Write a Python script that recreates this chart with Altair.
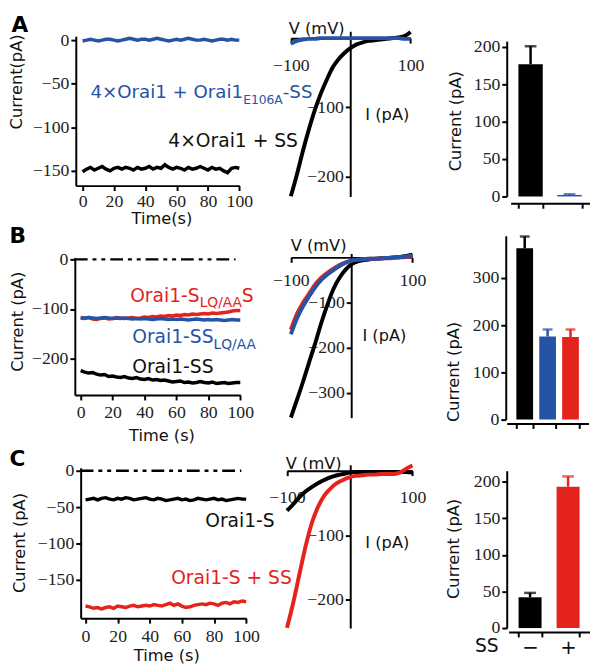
import altair as alt
import pandas as pd

# ---------------- data ----------------
TIME = [0, 2.5, 5, 7.5, 10, 12.5, 15, 17.5, 20, 22.5, 25, 27.5, 30, 32.5, 35, 37.5, 40,
        42.5, 45, 47.5, 50, 52.5, 55, 57.5, 60, 62.5, 65, 67.5, 70, 72.5, 75, 77.5, 80,
        82.5, 85, 87.5, 90, 92.5, 95, 97.5, 100]
VOLT = [-100, -90, -80, -70, -60, -50, -40, -30, -20, -10, 0, 10, 20, 30, 40, 50, 60, 70, 80, 90, 100]

# time courses (pA)
A_blue_t = [-1, 0, 1, 0, -1, 0, 1, 1, 0, -1, 0, 1, 2, 1, 0, 1, 1, 0, 1, 2, 1, 0, -1, 0, 1, 0,
            1, 2, 1, 0, 0, 1, 0, -1, 0, 1, 1, 0, 1, 0, 0]
A_black_t = [-151, -148, -146, -149, -147, -145, -148, -150, -147, -146, -148, -146, -147, -149,
             -146, -148, -147, -145, -148, -146, -147, -143, -146, -148, -146, -147, -149, -146,
             -148, -147, -145, -147, -149, -146, -148, -147, -150, -152, -147, -146, -147]
B_red_t = [-118, -119, -117, -120, -121, -119, -118, -120, -119, -117, -118, -119, -118, -117,
           -119, -118, -116, -117, -115, -116, -114, -115, -113, -114, -112, -113, -111, -112,
           -110, -111, -110, -109, -110, -108, -109, -108, -107, -106, -104, -103, -103]
B_blue_t = [-117, -118, -117, -118, -119, -118, -117, -118, -119, -118, -119, -118, -119, -120,
            -119, -120, -119, -120, -121, -120, -119, -120, -121, -120, -121, -120, -121, -122,
            -121, -120, -121, -122, -121, -122, -121, -122, -123, -122, -121, -122, -122]
B_black_t = [-224, -227, -229, -228, -231, -233, -232, -236, -235, -237, -238, -236, -239, -240,
             -238, -241, -242, -240, -243, -242, -244, -243, -245, -247, -246, -245, -248, -247,
             -249, -248, -246, -248, -249, -247, -250, -249, -248, -250, -249, -248, -248]
C_black_t = [-40, -39, -38, -40, -38, -37, -39, -40, -38, -39, -37, -38, -40, -39, -38, -37, -39,
             -40, -38, -39, -41, -40, -39, -38, -40, -39, -41, -40, -38, -39, -40, -39, -38, -40,
             -39, -41, -40, -39, -38, -39, -39]
C_red_t = [-186, -187, -189, -188, -190, -188, -187, -189, -186, -187, -188, -186, -185, -187,
           -186, -185, -186, -184, -185, -186, -184, -182, -185, -183, -186, -188, -187, -185,
           -184, -183, -184, -182, -183, -185, -182, -181, -183, -180, -181, -179, -180]

# I-V curves (pA)
A_black_iv = [-228, -197, -163, -132, -104, -80, -60, -42, -30, -21, -14, -9, -6, -4, -3, -2, -1, 0, 1, 3, 9]
A_blue_iv = [-8, -4, -2, -1, -1, 0, 0, 0, 0, 0, 0, 0, 0, 0, 0, 0, 0, 0, 0, -1, -1]
B_black_iv = [-354, -315, -275, -232, -190, -145, -105, -70, -45, -27, -15, -9, -6, -4, -3, -2, -1, 0, 1, 3, 6]
B_red_iv = [-160, -125, -100, -80, -60, -45, -34, -25, -17, -11, -7, -5, -4, -3, -3, -2, -2, -1, 0, 1, 2]
B_blue_iv = [-170, -135, -108, -86, -66, -50, -38, -28, -19, -12, -7, -5, -4, -3, -3, -2, -1, 0, 1, 2, 4]
C_black_iv = [-62, -52, -41, -32, -25, -19, -14, -10, -7, -5, -3, -2, -2, -2, -2, -2, -2, -2, -2, -2, -3]
C_red_iv = [-244, -205, -160, -116, -80, -55, -38, -27, -19, -14, -10, -8, -7, -6, -6, -5, -5, -5, -3, 3, 8]

# bar summaries (pA)
A_cats = ["4×Orai1 + SS", "4×Orai1 + Orai1E106A-SS"]
A_vals = [177, 2]
A_errs = [24, 1]
B_cats = ["Orai1-SS", "Orai1-SSLQ/AA", "Orai1-SLQ/AAS"]
B_vals = [363, 176, 175]
B_errs = [25, 15, 16]
C_cats = ["−", "+"]
C_vals = [42, 193]
C_errs = [6, 14]

BLACK = "#000000"
BLUE = "#2553a6"
RED = "#e4231c"
SANS = "DejaVu Sans"
SERIF = "Liberation Serif"
LBL = dict(labelFont=SERIF, labelFontSize=18, labelColor="#222")

# ---------------- layout helpers (reference-pixel grid) ----------------
SX, SY = 0.99, 1.0
COLS = [68, 262, 440, 600]
ROWS = [25, 233, 466, 646]
LETTER_SHIFT = 26


def lx(c, x):
    return (x - COLS[c]) * SX


def ly(r, y):
    return (y - ROWS[r]) * SY


def W(c):
    return (COLS[c + 1] - COLS[c]) * SX


def H(r):
    return (ROWS[r + 1] - ROWS[r]) * SY


CW = {'O': 0.787, 'r': 0.411, 'a': 0.613, 'i': 0.278, '1': 0.636, '4': 0.636, '×': 0.838,
      ' ': 0.318, '+': 0.838, '-': 0.361, 'S': 0.635, 'E': 0.632, '0': 0.636, '6': 0.636,
      'A': 0.684, 'L': 0.557, 'Q': 0.787, '/': 0.337}


def est_width(s, size):
    return sum(CW.get(ch, 0.6) for ch in s) * size


def letter_title(letter, pos, r):
    return alt.TitleParams(text=letter, anchor="start", frame="group", orient="top", offset=0,
                           dx=(pos[0] - COLS[0]) * SX, dy=(pos[1] - ROWS[r]) * SY + LETTER_SHIFT,
                           baseline="alphabetic", fontSize=22, fontWeight="bold", font=SANS,
                           color="#000")


def time_panel(r, cfg, traces, anns, zero_line):
    h = H(r)
    pps = (cfg['x100'] - cfg['x0']) / 100.0
    d0 = -(cfg['x0'] - cfg['axis_x']) / pps
    ytop = (cfg['y0'] - cfg['ytop_px']) / cfg['ppu']
    ybot = -(cfg['line_y'] - cfg['y0']) / cfg['ppu']
    xs = alt.Scale(domain=[d0, 100], range=[lx(0, cfg['axis_x']), lx(0, cfg['x100'])], nice=False, zero=False)
    ys = alt.Scale(domain=[ybot, ytop], range=[ly(r, cfg['line_y']), ly(r, cfg['ytop_px'])], nice=False, zero=False)
    xa = alt.Axis(values=[0, 20, 40, 60, 80, 100], offset=ly(r, cfg['line_y']) - h, title=cfg['xtitle'],
                  titleX=lx(0, cfg['xt'][0]), titleY=(cfg['xt'][1] - cfg['line_y']) * SY,
                  titleAlign="center", titleBaseline="middle", labelPadding=cfg['lp'], **LBL)
    ya = alt.Axis(values=cfg['yticks'], offset=-lx(0, cfg['axis_x']), title=cfg['ytitle'],
                  titleX=(cfg['yt'][0] - cfg['axis_x']) * SX, titleY=ly(r, cfg['yt'][1]),
                  titleAngle=270, titleAlign="center", titleBaseline="middle", **LBL)
    xe = alt.X("t:Q", scale=xs, axis=xa)
    ye = alt.Y("I:Q", scale=ys, axis=ya)
    layers = []
    if zero_line:
        zdf = pd.DataFrame({"t": [d0], "t2": [97], "I": [0]})
        layers.append(alt.Chart(zdf).mark_rule(color=BLACK, strokeWidth=2.5, strokeDash=[13, 5, 4, 5, 4, 5])
                      .encode(x=xe, x2="t2:Q", y=ye))
    for vals, col in traces:
        df = pd.DataFrame({"t": TIME, "I": vals})
        layers.append(alt.Chart(df).mark_line(color=col, strokeWidth=3.5).encode(x=xe, y=ye))
    for (t, i, pieces, col) in anns:
        df = pd.DataFrame({"t": [t], "I": [i]})
        dx = 0
        for text, size, dy in pieces:
            layers.append(alt.Chart(df).mark_text(text=text, font=SANS, fontSize=size, color=col,
                                                  align="left", baseline="alphabetic", dx=dx, dy=dy)
                          .encode(x=xe, y=ye))
            dx += est_width(text, size)
    return alt.layer(*layers).properties(width=W(0), height=h,
                                         title=letter_title(cfg['letter'], cfg['letter_pos'], r))


def iv_panel(r, cfg, curves):
    h = H(r)
    ytop = (cfg['zero_y'] - cfg['top_px']) / cfg['ppu']
    ybot = -(cfg['bot_px'] - cfg['zero_y']) / cfg['ppu']
    xs = alt.Scale(domain=[-100, 100], range=[lx(1, cfg['x_left']), lx(1, cfg['x_right'])], nice=False, zero=False)
    ys = alt.Scale(domain=[ybot, ytop], range=[ly(r, cfg['bot_px']), ly(r, cfg['top_px'])], nice=False, zero=False)
    xa = alt.Axis(values=[-100, 100], offset=ly(r, cfg['zero_y']) - h, title="V (mV)",
                  titleX=lx(1, cfg['vt'][0]), titleY=(cfg['vt'][1] - cfg['zero_y']) * SY,
                  titleAlign="center", titleBaseline="middle", labelPadding=cfg['lp'], **LBL)
    ya = alt.Axis(values=cfg['yticks'], offset=-lx(1, cfg['zero_x']), title="I (pA)",
                  titleX=(cfg['it'][0] - cfg['zero_x']) * SX, titleY=ly(r, cfg['it'][1]),
                  titleAngle=0, titleAlign="left", titleBaseline="middle", **LBL)
    xe = alt.X("V:Q", scale=xs, axis=xa)
    ye = alt.Y("I:Q", scale=ys, axis=ya)
    layers = []
    for vals, col in curves:
        df = pd.DataFrame({"V": VOLT, "I": vals})
        layers.append(alt.Chart(df).mark_line(color=col, strokeWidth=4, interpolate="monotone")
                      .encode(x=xe, y=ye))
    return alt.layer(*layers).properties(width=W(1), height=h)


def bar_panel(r, cfg):
    h = H(r)
    top = (cfg['zero_y'] - cfg['top_px']) / cfg['ppu']
    df = pd.DataFrame({"cat": cfg['cats'], "v": cfg['vals'],
                       "hi": [a + b for a, b in zip(cfg['vals'], cfg['errs'])],
                       "color": cfg['colors']})
    xs = alt.Scale(domain=cfg['cats'], range=[lx(2, cfg['band'][0]), lx(2, cfg['band'][1])],
                   paddingInner=cfg['pi'], paddingOuter=cfg['po'])
    ys = alt.Scale(domain=[0, top], range=[ly(r, cfg['zero_y']), ly(r, cfg['top_px'])], nice=False, zero=False)
    if cfg.get('labels'):
        xa = alt.Axis(tickBand="extent", offset=ly(r, cfg['xline']) - h, labelAngle=0,
                      labelFont=SANS, labelFontSize=20, labelPadding=1, labelColor="#111",
                      title="SS", titleAngle=0, titleFontSize=19,
                      titleX=lx(2, cfg['xt'][0]), titleY=(cfg['xt'][1] - cfg['xline']) * SY,
                      titleAlign="center", titleBaseline="middle")
    else:
        xa = alt.Axis(tickBand="extent", offset=ly(r, cfg['xline']) - h, labels=False, title=None)
    ya = alt.Axis(values=cfg['yticks'], offset=-lx(2, cfg['axis_x']), title="Current (pA)",
                  titleX=(cfg['yt'][0] - cfg['axis_x']) * SX, titleY=ly(r, cfg['yt'][1]),
                  titleAngle=270, titleAlign="center", titleBaseline="middle", **LBL)
    xe = alt.X("cat:N", sort=cfg['cats'], scale=xs, axis=xa)
    ce = alt.Color("color:N", scale=None)
    bars = alt.Chart(df).mark_bar().encode(x=xe, y=alt.Y("v:Q", scale=ys, axis=ya), color=ce)
    err = alt.Chart(df).mark_rule(strokeWidth=2.5).encode(x=xe, y=alt.Y("v:Q", scale=ys, axis=ya),
                                                           y2="hi:Q", color=ce)
    cap = alt.Chart(df).mark_tick(size=cfg['cap'], thickness=2.5).encode(
        x=xe, y=alt.Y("hi:Q", scale=ys, axis=ya), color=ce)
    return alt.layer(bars, err, cap).properties(width=W(2), height=h)


# ---------------- panels ----------------
TA = dict(axis_x=72, x0=79, x100=240, line_y=182, y0=34, ppu=0.8867, ytop_px=30,
          yticks=[0, -50, -100, -150], xtitle="Time(s)", ytitle="Current(pA)",
          xt=(160, 216), yt=(11, 76), lp=2, letter="A", letter_pos=(6, 22))
TB = dict(axis_x=71, x0=77, x100=241, line_y=395, y0=257, ppu=0.505, ytop_px=255,
          yticks=[0, -100, -200], xtitle="Time (s)", ytitle="Current (pA)",
          xt=(160, 436), yt=(12, 320), lp=4, letter="B", letter_pos=(4, 236))
TC = dict(axis_x=77, x0=82, x100=247, line_y=622, y0=472, ppu=0.74, ytop_px=469,
          yticks=[0, -50, -100, -150], xtitle="Time (s)", ytitle="Current (pA)",
          xt=(165, 660), yt=(14, 545), lp=5, letter="C", letter_pos=(4, 466))

IA = dict(x_left=292, x_right=415, zero_x=353, zero_y=32, ppu=0.705, top_px=25, bot_px=193,
          yticks=[-100, -200], vt=(318, 22), it=(368, 110), lp=14)
IB = dict(x_left=292, x_right=417, zero_x=354, zero_y=255, ppu=0.46, top_px=251, bot_px=418,
          yticks=[-100, -200, -300], vt=(320, 243), it=(365, 335), lp=10)
IC = dict(x_left=288, x_right=417, zero_x=353, zero_y=472, ppu=0.655, top_px=466, bot_px=632,
          yticks=[-100, -200], vt=(315, 465), it=(368, 545), lp=13)

BA = dict(axis_x=513, band=(517, 598), zero_y=193, ppu=0.76, top_px=35, xline=200,
          yticks=[0, 50, 100, 150, 200], pi=0.375, po=0.2, yt=(460, 116),
          cats=A_cats, vals=A_vals, errs=A_errs, colors=[BLACK, BLUE], cap=12)
BB = dict(axis_x=512, band=(513, 597), zero_y=420, ppu=0.48, top_px=233, xline=424,
          yticks=[0, 100, 200, 300], pi=0.27, po=0.42, yt=(458, 371),
          cats=B_cats, vals=B_vals, errs=B_errs, colors=[BLACK, BLUE, RED], cap=10)
BC = dict(axis_x=513, band=(515, 598), zero_y=632, ppu=0.745, top_px=472, xline=636,
          yticks=[0, 50, 100, 150, 200], pi=0.395, po=0.26, yt=(458, 551),
          cats=C_cats, vals=C_vals, errs=C_errs, colors=[BLACK, RED], cap=12,
          labels=True, xt=(492, 650))

annA = [(5.0, -66.5, [("4×Orai1 + Orai1", 18.5, 0), ("E106A", 12.5, 6), ("-SS", 18.5, 0)], BLUE),
        (54.7, -123, [("4×Orai1 + SS", 19, 0)], "#111")]
annB = [(31, -85, [("Orai1-S", 19, 0), ("LQ/AA", 14, 6), ("S", 19, 0)], RED),
        (32.3, -168, [("Orai1-SS", 19, 0), ("LQ/AA", 14, 6)], BLUE),
        (32.3, -228, [("Orai1-SS", 19, 0)], "#111")]
annC = [(74.5, -78, [("Orai1-S", 19, 0)], "#111"),
        (53.3, -155, [("Orai1-S + SS", 19, 0)], RED)]

panels = [
    time_panel(0, TA, [(A_blue_t, BLUE), (A_black_t, BLACK)], annA, False),
    iv_panel(0, IA, [(A_black_iv, BLACK), (A_blue_iv, BLUE)]),
    bar_panel(0, BA),
    time_panel(1, TB, [(B_black_t, BLACK), (B_red_t, RED), (B_blue_t, BLUE)], annB, True),
    iv_panel(1, IB, [(B_black_iv, BLACK), (B_red_iv, RED), (B_blue_iv, BLUE)]),
    bar_panel(1, BB),
    time_panel(2, TC, [(C_black_t, BLACK), (C_red_t, RED)], annC, True),
    iv_panel(2, IC, [(C_black_iv, BLACK), (C_red_iv, RED)]),
    bar_panel(2, BC),
]

chart = alt.concat(*panels, columns=3, spacing=0, bounds="flush", align="each").properties(
    padding=0
).configure_view(stroke=None).configure_axis(
    grid=False, domainColor="#000", domainWidth=2, tickColor="#000", tickWidth=2, tickSize=5,
    labelOverlap=False, labelFlush=False,
    titleFont=SANS, titleFontSize=16.5, titleFontWeight="normal", titleColor="#111"
)

chart.save("out.html", embed_options={"renderer": "svg", "actions": False})
